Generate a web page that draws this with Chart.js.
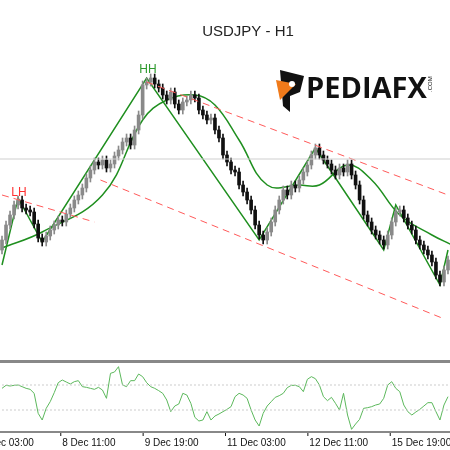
<!DOCTYPE html>
<html><head><meta charset="utf-8">
<script src="https://cdn.jsdelivr.net/npm/chart.js@4"></script>
<style>html,body{margin:0;padding:0;background:#fff;width:450px;height:450px;overflow:hidden}
canvas{display:block}#a{position:absolute;left:0;top:0}#b{position:absolute;left:0;top:360px}</style>
</head><body>
<div id="a" style="width:450px;height:360px"><canvas id="c1"></canvas></div>
<div id="b" style="width:450px;height:90px"><canvas id="c2"></canvas></div>
<script>
const closes=[160,175,185,195,200, 192,190,188,176,162,158,
164,170,175,180,178,186,192,200,205,212,222,230,238,235,
240,232,236,244,250,258,262,255,270,285,
315,318,322,
316,312,305,300,308,296,290,298,300,305,
302,290,285,280,282,
270,262,245,238,230,228,215,208,200,190,175,165,160,
168,178,190,200,210,205,215,212,220,228,235,245,252,
245,240,236,230,225,232,228,236,225,215,200,
185,178,170,165,160,155,
165,178,188,190,
182,175,170,160,155,150,145,
138,125,118,130,140];
const firstOpen=150;
const maPts=[[0,152],[10,168],[25,205],[35,280],[41,300],[48,305],[53,295],[59,260],[66,215],[74,215],[79,215],[86,235],[92,220],[99,185],[107,165],[112,155]];
const zigzag=[[0,135],[4,202],[10,158],[36,322],[64,160],[78,252],[95,150],[98,195],[109,115],[111,150]];
const channelUpper=[[36,318],[111,205]];
const channelLower=[[24.5,220],[109.5,82]];
const lhLine=[[0,205],[23,178]];
const refLevel=241;
const osc=[145,136,138,136,135,140,145,148,160,220,240,205,185,158,128,120,126,132,125,122,140,142,145,148,142,150,175,100,96,80,135,140,122,122,102,110,128,140,145,152,160,180,215,198,192,160,165,190,232,243,240,215,240,228,222,215,208,200,170,160,165,175,210,240,258,220,198,185,172,167,160,143,136,136,140,155,118,110,116,135,170,182,172,190,210,160,225,268,252,238,205,203,200,195,192,175,135,125,145,155,195,215,225,216,208,198,188,188,215,240,195,170].map(v=>300-v);
const oscLevels=[165,90];
const tickLabels=["8 Dec 03:00","8 Dec 11:00","9 Dec 19:00","11 Dec 03:00","12 Dec 11:00","15 Dec 19:00"];
const tickIdx=[-6,14.5,35,55.5,76,96.5];

const opens=closes.map((c,i)=>i?closes[i-1]:firstOpen);
const bodies=closes.map((c,i)=>({x:i,y:[opens[i],c]}));
const wicks=closes.map((c,i)=>({x:i,y:[Math.min(c,opens[i])-4,Math.max(c,opens[i])+4]}));
const candleCol=ctx=>{const i=ctx.dataIndex;return closes[i]>=opens[i]?'#8a8a8a':'#111';};
const pts=a=>a.map(p=>({x:p[0],y:p[1]}));
const lineDs=(d,col,w,dash,t)=>({type:'line',data:pts(d),borderColor:col,borderWidth:w,borderDash:dash||[],pointRadius:0,tension:t||0,fill:false});
const xScale=()=>({type:'linear',display:false,offset:false,bounds:'data',min:-0.5,max:111.5});

const deco={id:'deco',afterDraw(ch){const c=ch.ctx;c.save();
c.fillStyle='#222';c.font='15px "Liberation Sans"';c.textAlign='center';c.fillText('USDJPY - H1',248,36);
c.font='12px "Liberation Sans"';c.fillStyle='#2e9a2e';c.fillText('HH',148,73);c.fillStyle='#ff3030';c.fillText('LH',19,196);
c.fillStyle='#111';c.beginPath();c.moveTo(280,70);c.lineTo(304,76);c.lineTo(300,92);c.lineTo(290,96);c.lineTo(290,112);c.lineTo(283,106);c.closePath();c.fill();
c.fillStyle='#f07a1a';c.beginPath();c.moveTo(276,80);c.lineTo(296,84);c.lineTo(288,92);c.lineTo(280,100);c.closePath();c.fill();
c.fillStyle='#fff';c.beginPath();c.arc(292,84,3,0,7);c.fill();
c.fillStyle='#111';c.textAlign='left';c.font='bold 29px "Open Sans"';c.fillText('PEDIAFX',306,98);
c.save();c.translate(432,92);c.rotate(-Math.PI/2);c.font='6px "Liberation Sans"';c.fillText('.COM',0,0);c.restore();
c.restore();}};

new Chart(document.getElementById('c1'),{
data:{datasets:[
lineDs([[-1,refLevel],[112,refLevel]],'#cfcfcf',1),
lineDs(channelUpper,'#ff5a5a',1,[7,5]),
lineDs(channelLower,'#ff5a5a',1,[7,5]),
lineDs(lhLine,'#ff5a5a',1,[7,5]),
{type:'bar',data:wicks,backgroundColor:candleCol,barThickness:1,grouped:false},
{type:'bar',data:bodies,backgroundColor:candleCol,barThickness:3,grouped:false},
lineDs(maPts,'#1f8f1f',1.5,null,0.4),
lineDs(zigzag,'#1f8f1f',1.5)
]},
options:{animation:false,responsive:true,maintainAspectRatio:false,layout:{padding:0},
plugins:{legend:{display:false},tooltip:{enabled:false}},
scales:{x:xScale(),y:{display:false,min:40,max:400}}},
plugins:[deco]});

const frame={id:'frame',afterDraw(ch){const c=ch.ctx,x=ch.scales.x;c.save();
c.fillStyle='#888';c.fillRect(0,0,450,3);c.fillRect(0,71,450,2);
c.font='10px "Liberation Sans"';c.fillStyle='#111';c.textAlign='left';
tickLabels.forEach((t,i)=>{const px=x.getPixelForValue(tickIdx[i]);c.fillRect(px,73,1,3);c.fillText(t,px+2,86);});
c.restore();}};
new Chart(document.getElementById('c2'),{
data:{datasets:[
lineDs([[-1,oscLevels[0]],[112,oscLevels[0]]],'#cccccc',1,[2,2]),
lineDs([[-1,oscLevels[1]],[112,oscLevels[1]]],'#cccccc',1,[2,2]),
{type:'line',data:osc.map((v,i)=>({x:i,y:v})),borderColor:'#5cb85c',borderWidth:1,pointRadius:0,fill:false}
]},
options:{animation:false,responsive:true,maintainAspectRatio:false,layout:{padding:{top:2,bottom:19}},
plugins:{legend:{display:false},tooltip:{enabled:false}},
scales:{x:xScale(),y:{display:false,min:27,max:234}}},
plugins:[frame]});
</script></body></html>
